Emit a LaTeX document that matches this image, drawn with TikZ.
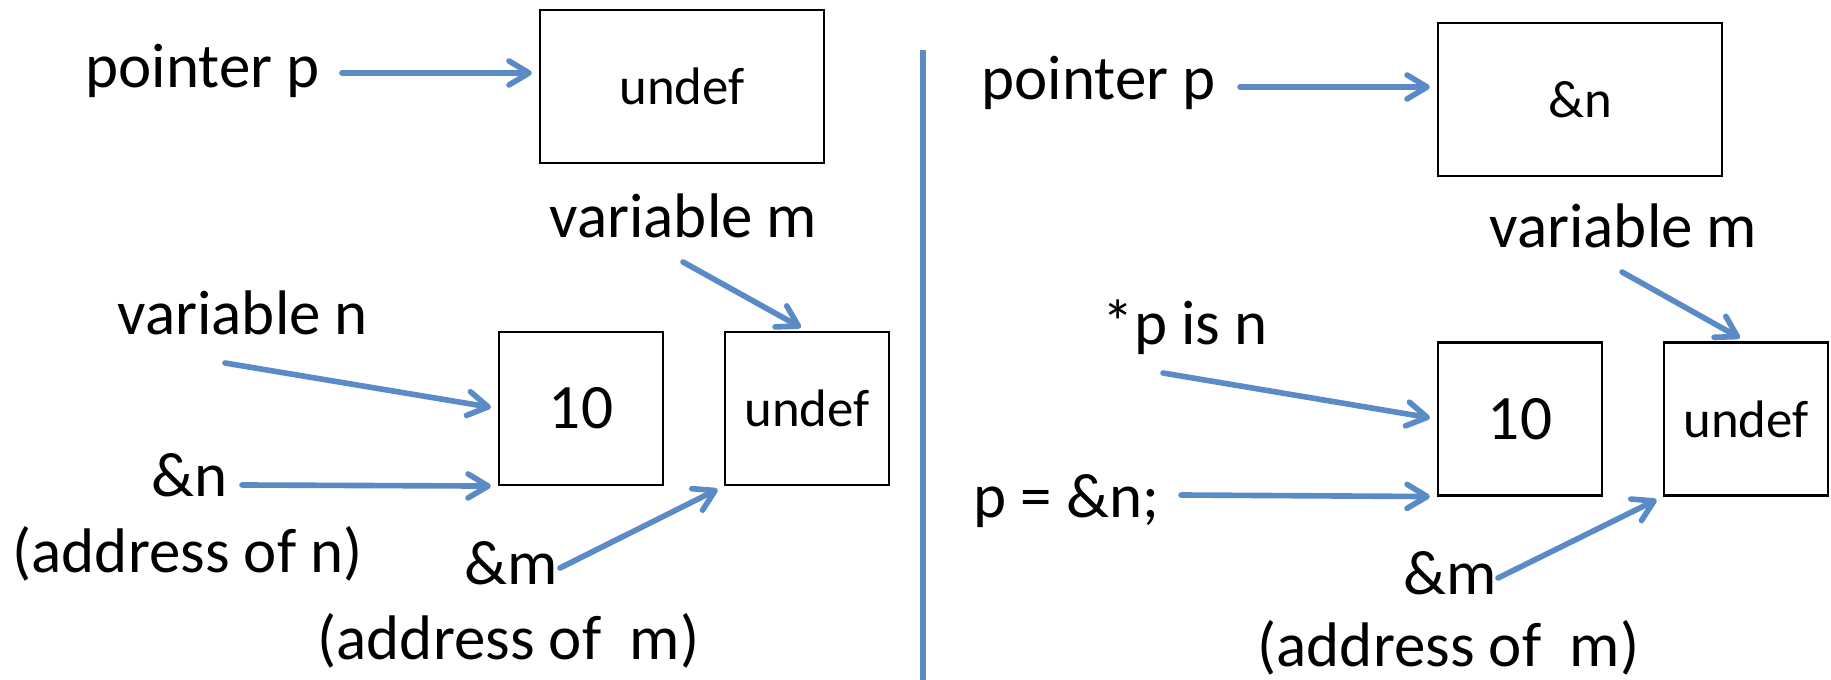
\documentclass[tikz,border=0pt]{standalone}
\usepackage{fontspec}
\setmainfont{Carlito}
\usetikzlibrary{arrows.meta,calc}

\definecolor{ptrblue}{HTML}{5A8BC6}

\begin{document}
\begin{tikzpicture}[x=0.01cm, y=-0.01cm,
    arr/.style={-{Straight Barb[length=2mm,width=2.4mm,round]},
                line width=1.6pt, ptrblue, line cap=round, shorten >=2pt},
    lbl/.style={font=\fontsize{17.9}{21}\selectfont, inner sep=0pt, anchor=base west},
    cell/.style={draw, line width=0.6pt, font=\fontsize{15}{18}\selectfont,
                 minimum height=1.53cm},
    bigcell/.style={cell, minimum width=2.84cm},
    smallcell/.style={cell, minimum width=1.64cm},
]
\useasboundingbox (0,0) rectangle (1831,680);

% Left: before assignment
\node[bigcell] (boxL) at (682, 86.5) {undef};
\node[smallcell, font=\fontsize{18}{21}\selectfont] (tenL) at (581, 408.5) {10};
\node[smallcell] (undefL) at (807, 408.5) {undef};

\node[lbl] (ptrL) at (85, 88) {pointer p};
\node[lbl] (varmL) at (549, 238) {variable m};
\node[lbl] (varnL) at (117, 335) {variable n};
\node[lbl] (ampnL) at (151, 497) {\&n};
\node[lbl] (addrnL) at (12, 573) {(address of n)};
\node[lbl] (ampmL) at (464, 585) {\&m};
\node[lbl] (addrmL) at (317, 660) {(address of \ m)};

\coordinate (ptrLs) at (342, 73);
\coordinate (varmLs) at (683, 262);
\coordinate (varnLs) at (225, 363);
\coordinate (ampnLs) at (242, 485);
\coordinate (ampmLs) at (560, 568);

\draw[arr] (ptrLs) -- (ptrLs -| boxL.west);
\draw[arr] (varmLs) -- (undefL.north);
\draw[arr] (varnLs) -- (tenL.west);
\draw[arr] (ampnLs) -- (tenL.south west);
\draw[arr] (ampmLs) -- (undefL.south west);

% Divider
\draw[ptrblue, line width=1.5pt] (923, 50) -- (923, 680);

% Right: after p = &n
\node[bigcell] (boxR) at (1580, 99.5) {\&n};
\node[smallcell, font=\fontsize{18}{21}\selectfont] (tenR) at (1520, 419) {10};
\node[smallcell] (undefR) at (1746, 419) {undef};

\node[lbl] (ptrR) at (981, 100) {pointer p};
\node[lbl] (varmR) at (1489, 248) {variable m};
\node[lbl] (pisnR) at (1102, 345) {*p is n};
\node[lbl] (peqR) at (973, 518) {p = \&n;};
\node[lbl] (ampmR) at (1403, 595) {\&m};
\node[lbl] (addrmR) at (1257, 667) {(address of \ m)};

\coordinate (ptrRs) at (1240, 87);
\coordinate (varmRs) at (1622, 272);
\coordinate (pisnRs) at (1163, 373);
\coordinate (peqRs) at (1181, 495);
\coordinate (ampmRs) at (1498, 578);

\draw[arr] (ptrRs) -- (ptrRs -| boxR.west);
\draw[arr] (varmRs) -- (undefR.north);
\draw[arr] (pisnRs) -- (tenR.west);
\draw[arr] (peqRs) -- (tenR.south west);
\draw[arr] (ampmRs) -- (undefR.south west);

\end{tikzpicture}
\end{document}
